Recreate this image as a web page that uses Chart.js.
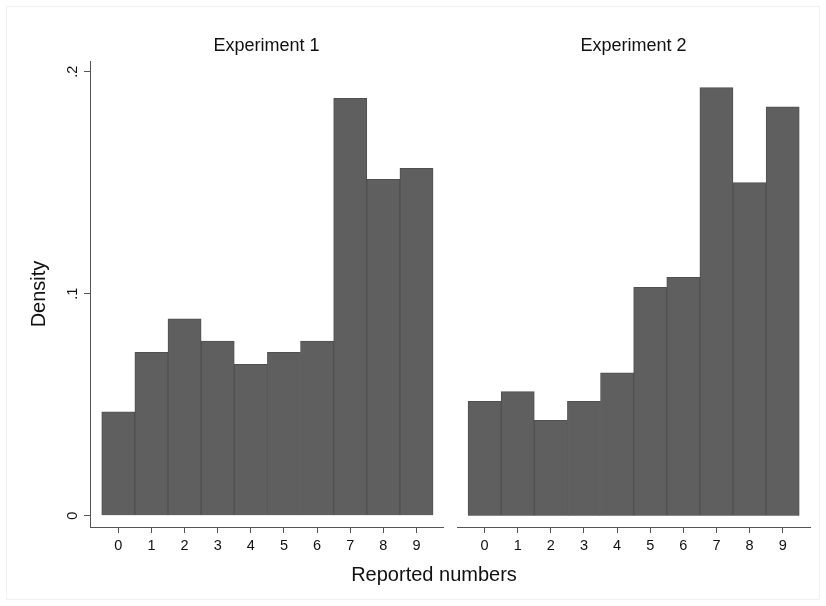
<!DOCTYPE html>
<html>
<head>
<meta charset="utf-8">
<script src="https://cdn.jsdelivr.net/npm/chart.js@4.4.1/dist/chart.umd.min.js"></script>
<style>
  body { margin: 0; background: #fff; }
  #wrap { position: relative; width: 826px; height: 606px; background: #fff; }
  #frame { position: absolute; left: 6px; top: 6px; right: 6px; bottom: 6px; border: 1px solid #f0f0f0; }
  canvas { position: absolute; top: 0; }
  #left { left: 0; }
  #right { left: 450px; }
  #xtitle {
    position: absolute; left: 234px; width: 400px; top: 563px;
    text-align: center; font: 20px "Liberation Sans", Arial, Helvetica, sans-serif; color: #111;
  }
</style>
</head>
<body>
<div id="wrap">
  <div id="frame"></div>
  <canvas id="left" width="450" height="606"></canvas>
  <canvas id="right" width="376" height="606"></canvas>
  <div id="xtitle">Reported numbers</div>
</div>
<script>
// reported number categories
const numbers = [0, 1, 2, 3, 4, 5, 6, 7, 8, 9];
// density per number
const exp1 = [0.0468, 0.0736, 0.0887, 0.0786, 0.0682, 0.0736, 0.0786, 0.1880, 0.1515, 0.1565];
const exp2 = [0.0515, 0.0559, 0.0430, 0.0515, 0.0644, 0.1029, 0.1074, 0.1928, 0.1500, 0.1842];
const yTicks = [0, 0.1, 0.2];
const yLabels = ['0', '.1', '.2'];

const FONT = '"Liberation Sans", Arial, Helvetica, sans-serif';
const AXIS = '#555';

function panelText(title, withY) {
  return {
    id: 'panelText',
    afterDraw(chart) {
      const { ctx, chartArea, scales } = chart;
      ctx.save();
      ctx.fillStyle = '#111';
      ctx.textAlign = 'center';
      ctx.textBaseline = 'alphabetic';
      ctx.font = '18px ' + FONT;
      ctx.fillText(title, (chartArea.left + chartArea.right) / 2, 51);

      if (withY) {
        // vertical tick labels, like stata
        ctx.font = '14.5px ' + FONT;
        yTicks.forEach((v, i) => {
          const py = scales.y.getPixelForValue(v);
          ctx.save();
          ctx.translate(76.5, py);
          ctx.rotate(-Math.PI / 2);
          ctx.fillText(yLabels[i], 0, 0);
          ctx.restore();
        });
        ctx.font = '20px ' + FONT;
        ctx.save();
        ctx.translate(45, (chartArea.top + chartArea.bottom) / 2);
        ctx.rotate(-Math.PI / 2);
        ctx.fillText('Density', 0, 0);
        ctx.restore();
      }
      ctx.restore();
    }
  };
}

function makePanel(id, values, title, opts) {
  new Chart(document.getElementById(id), {
    type: 'bar',
    data: {
      datasets: [{
        data: numbers.map((n, i) => ({ x: n, y: values[i] })),
        backgroundColor: '#5f5f5f',
        borderColor: '#505050',
        borderWidth: 1,
        barPercentage: 1,
        categoryPercentage: 1
      }]
    },
    options: {
      responsive: false,
      animation: false,
      layout: { padding: opts.padding },
      plugins: { legend: { display: false }, tooltip: { enabled: false }, title: { display: false } },
      scales: {
        x: {
          type: 'linear',
          offset: false,
          min: opts.xmin,
          max: opts.xmax,
          afterBuildTicks: s => { s.ticks = numbers.map(v => ({ value: v })); },
          afterFit: s => { s.height = 40; },
          grid: { offset: false, drawOnChartArea: false, drawTicks: true, tickLength: 6, color: AXIS },
          border: { display: true, color: AXIS, width: 1 },
          ticks: { color: '#111', padding: 4, font: { family: FONT, size: 14.5 }, maxRotation: 0, autoSkip: false }
        },
        y: {
          display: opts.showY,
          min: -0.00509,
          max: 0.2048,
          afterBuildTicks: s => { s.ticks = yTicks.map(v => ({ value: v })); },
          afterFit: s => { s.width = opts.yWidth; },
          grid: { drawOnChartArea: false, drawTicks: true, tickLength: 6, color: AXIS },
          border: { display: true, color: AXIS, width: 1 },
          ticks: { display: false }
        }
      }
    },
    plugins: [panelText(title, opts.showY)]
  });
}

makePanel('left', exp1, 'Experiment 1', {
  padding: { left: 0, right: 7, top: 61, bottom: 39 },
  xmin: -0.854, xmax: 9.80, showY: true, yWidth: 90
});
makePanel('right', exp2, 'Experiment 2', {
  padding: { left: 7, right: 16, top: 61, bottom: 39 },
  xmin: -0.834, xmax: 9.825, showY: false, yWidth: 0
});
</script>
</body>
</html>
